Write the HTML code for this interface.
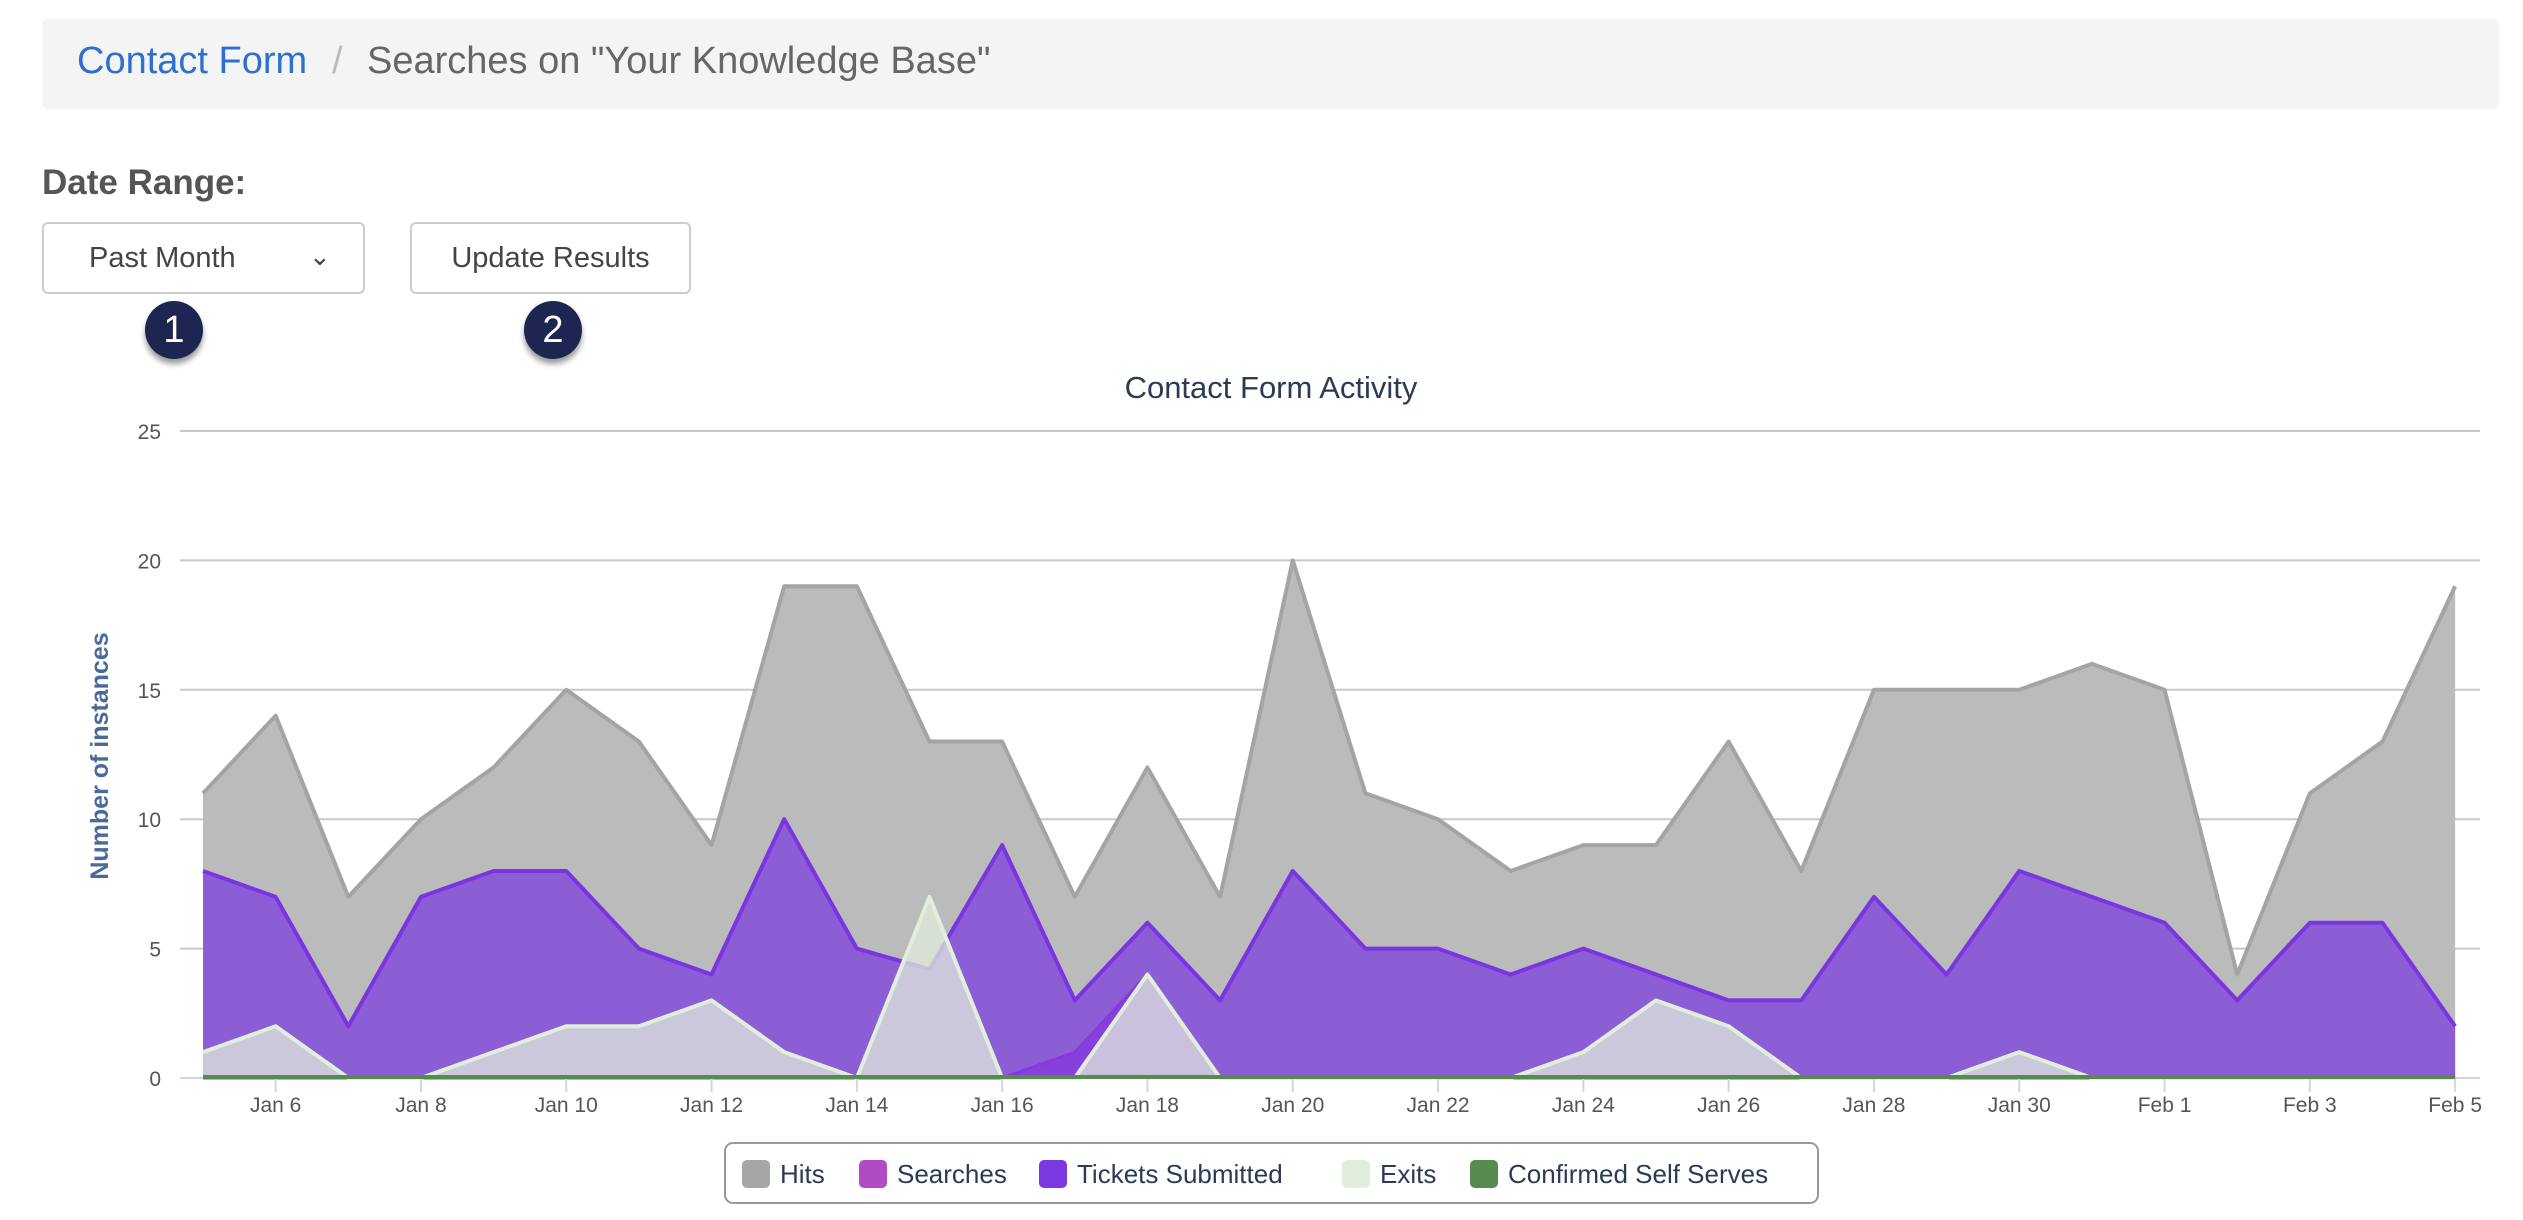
<!DOCTYPE html>
<html><head><meta charset="utf-8"><style>
body{margin:0;width:2523px;height:1220px;background:#fff;font-family:"Liberation Sans",sans-serif;position:relative;overflow:hidden}
.bc{position:absolute;left:42px;top:19px;width:2457px;height:90px;background:#f4f4f4;border-radius:6px}
.bc span{position:absolute;top:21px;font-size:38px}
.dr{position:absolute;left:42px;top:163px;font-size:35px;font-weight:bold;color:#555}
.btn{position:absolute;top:222px;height:72px;border:2px solid #ccc;border-radius:6px;box-sizing:border-box;font-size:29px;color:#444;line-height:68px}
.badge{position:absolute;width:58px;height:58px;border-radius:50%;background:#1c2650;color:#fff;font-size:38px;text-align:center;line-height:58px;box-shadow:0 5px 6px rgba(0,0,0,.4)}
</style></head><body>
<div class="bc"><span style="left:35px;color:#2f6fce">Contact Form</span><span style="left:290px;color:#bbb">/</span><span style="left:325px;color:#666">Searches on "Your Knowledge Base"</span></div>
<div class="dr">Date Range:</div>
<div class="btn" style="left:42px;width:323px;padding-left:45px">Past Month<span style="position:absolute;left:265px;top:-2px;font-size:26px">&#8964;</span></div>
<div class="btn" style="left:410px;width:281px;text-align:center">Update Results</div>
<div class="badge" style="left:145px;top:301px">1</div>
<div class="badge" style="left:524px;top:301px">2</div>
<svg id="c" width="2523" height="1220" style="position:absolute;left:0;top:0" font-family="Liberation Sans, DejaVu Sans, sans-serif"></svg>
<script>
var H=[11,14,7,10,12,15,13,9,19,19,13,13,7,12,7,20,11,10,8,9,9,13,8,15,15,15,16,15,4,11,13,19];
var T=[8,7,2,7,8,8,5,4,10,5,4.2,9,3,6,3,8,5,5,4,5,4,3,3,7,4,8,7,6,3,6,6,2];
var S=[0,0,0,0,0,0,0,0,0,0,0,0,1,4,0,0,0,0,0,0,0,0,0,0,0,0,0,0,0,0,0,0];
var E=[1,2,0,0,1,2,2,3,1,0,7,0,0,4,0,0,0,0,0,1,3,2,0,0,0,1,0,0,0,0,0,0];
function X(i){return 203+72.65*i}function Y(v){return 1078-25.88*v}
var s='';
for(var g=0;g<=5;g++){var y=Y(g*5);s+='<line x1="180" x2="2480" y1="'+y+'" y2="'+y+'" stroke="#c8c8c8" stroke-width="2"/><text x="161" y="'+(y+8)+'" text-anchor="end" font-size="21" fill="#555">'+g*5+'</text>';}
function area(d,fill,stroke,sw){var p=d.map(function(v,i){return X(i)+','+Y(v)}).join(' ');
return '<polygon points="'+X(0)+','+Y(0)+' '+p+' '+X(31)+','+Y(0)+'" fill="'+fill+'"/><polyline points="'+p+'" fill="none" stroke="'+stroke+'" stroke-width="'+sw+'" stroke-linejoin="round"/>';}
s+=area(H,'#bbbbbb','#a4a4a4',4);
s+=area(S,'rgba(160,60,220,0.8)','#9b3fd6',3);
s+=area(T,'rgba(122,58,224,0.72)','#7a35e0',4);
s+=area(E,'rgba(226,238,220,0.74)','#e2eedc',4);
s+='<line x1="180" x2="2480" y1="1078" y2="1078" stroke="#ccd6eb" stroke-width="2"/><line x1="'+X(0)+'" x2="'+X(31)+'" y1="1077" y2="1077" stroke="#578a4e" stroke-width="4"/>';
var lab=['Jan 6','Jan 8','Jan 10','Jan 12','Jan 14','Jan 16','Jan 18','Jan 20','Jan 22','Jan 24','Jan 26','Jan 28','Jan 30','Feb 1','Feb 3','Feb 5'];
for(var k=0;k<16;k++){var x=X(1+2*k);s+='<line x1="'+x+'" x2="'+x+'" y1="1079" y2="1092" stroke="#ccd6eb" stroke-width="2"/><text x="'+x+'" y="1112" text-anchor="middle" font-size="21" fill="#555">'+lab[k]+'</text>';}
s+='<text x="1271" y="398" text-anchor="middle" font-size="31" fill="#2b3a55">Contact Form Activity</text>';
s+='<text transform="translate(108,756) rotate(-90)" text-anchor="middle" font-size="25" font-weight="bold" fill="#4a6a9a">Number of instances</text>';
s+='<rect x="725" y="1143" width="1093" height="60" rx="8" fill="#fff" stroke="#999" stroke-width="2"/>';
var L=[['Hits','#a6a6a6',742],['Searches','#b04bc4',859],['Tickets Submitted','#7a3ae0',1039],['Exits','#e2eedc',1342],['Confirmed Self Serves','#578a4e',1470]];
L.forEach(function(l){s+='<rect x="'+l[2]+'" y="1160" width="28" height="28" rx="5" fill="'+l[1]+'"/><text x="'+(l[2]+38)+'" y="1183" font-size="26" fill="#2b3a55">'+l[0]+'</text>';});
document.getElementById('c').innerHTML=s;
</script>
</body></html>
